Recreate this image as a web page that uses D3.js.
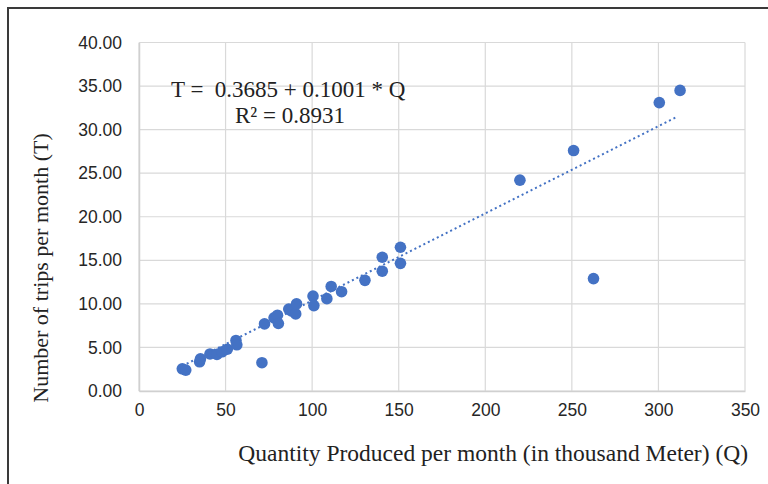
<!DOCTYPE html>
<html lang="en">
    <head>
        <meta charset="utf-8">
        <title>Trips vs Quantity</title>
        <script type="text/javascript" src="https://cdn.jsdelivr.net/npm/d3@7"></script>
        <style>
            body { margin: 0; background: #fff; }
        </style>
    </head>
    <body>
        <script type="text/javascript">

            //Width and height
            var w = 768;
            var h = 484;

            // quantity produced per month (thousand meter)
            var quantity = [25, 27, 35, 35.5, 41, 45, 48, 51, 56, 56.5, 71, 72.5,
                            78, 80, 80.5, 86.5, 88, 90.5, 91, 100.5, 101, 108.5,
                            111, 117, 130.5, 140.5, 140.5, 151, 151,
                            220, 251, 262.5, 300.5, 312.5];
            // trips per month
            var trips = [2.55, 2.4, 3.35, 3.7, 4.25, 4.2, 4.5, 4.8, 5.8, 5.3, 3.25, 7.7,
                         8.4, 8.7, 7.75, 9.4, 9.2, 8.85, 10.0, 10.9, 9.8, 10.6,
                         12.0, 11.4, 12.7, 15.35, 13.75, 16.5, 14.65,
                         24.2, 27.6, 12.9, 33.1, 34.5];

            var xTicks = [0, 50, 100, 150, 200, 250, 300, 350];
            var yTicks = [0, 5, 10, 15, 20, 25, 30, 35, 40];

            // trendline from the picture
            var intercept = 0.3685;
            var slope = 0.1001;

            var dataset = quantity.map(function (q, i) {
                return [q, trips[i]];
            });

            var serif = "'Liberation Serif', 'Times New Roman', serif";
            var sans = "'Liberation Sans', Arial, sans-serif";

            var xScale = d3.scaleLinear()
                    .domain([0, 350])
                    .range([139, 745]);

            var yScale = d3.scaleLinear()
                    .domain([0, 40])
                    .range([391, 42.5]);

            var svg = d3.select("body")
                    .append("svg")
                    .attr("width", w)
                    .attr("height", h);

            //Outer frame (runs off the right and bottom)
            svg.append("rect")
                    .attr("x", 8)
                    .attr("y", 8)
                    .attr("width", w + 20)
                    .attr("height", h + 20)
                    .attr("fill", "#fff")
                    .attr("stroke", "#3a3a3a")
                    .attr("stroke-width", 2);

            //Gridlines
            svg.selectAll("line.gx")
                    .data(xTicks)
                    .enter()
                    .append("line")
                    .attr("class", "gx")
                    .attr("x1", function (d) { return xScale(d); })
                    .attr("x2", function (d) { return xScale(d); })
                    .attr("y1", yScale(0))
                    .attr("y2", yScale(40))
                    .attr("stroke", "#d9d9d9")
                    .attr("stroke-width", 1.2);

            svg.selectAll("line.gy")
                    .data(yTicks)
                    .enter()
                    .append("line")
                    .attr("class", "gy")
                    .attr("x1", xScale(0))
                    .attr("x2", xScale(350))
                    .attr("y1", function (d) { return yScale(d); })
                    .attr("y2", function (d) { return yScale(d); })
                    .attr("stroke", "#d9d9d9")
                    .attr("stroke-width", 1.2);

            //Axes
            var xAxis = d3.axisBottom(xScale)
                    .tickValues(xTicks)
                    .tickSize(0)
                    .tickPadding(13);

            var yAxis = d3.axisLeft(yScale)
                    .tickValues(yTicks)
                    .tickSize(0)
                    .tickPadding(17)
                    .tickFormat(d3.format(".2f"));

            var gx = svg.append("g")
                    .attr("transform", "translate(0," + yScale(0) + ")")
                    .call(xAxis);
            var gy = svg.append("g")
                    .attr("transform", "translate(" + xScale(0) + ",0)")
                    .call(yAxis);

            [gx, gy].forEach(function (g) {
                g.select(".domain").attr("stroke", "#d0d0d0").attr("stroke-width", 1.5);
                g.selectAll("text")
                        .attr("font-family", sans)
                        .attr("font-size", "17.5px")
                        .attr("fill", "#262626");
            });

            //Trendline
            var xMin = d3.min(quantity);
            var xMax = 310;
            svg.append("line")
                    .attr("x1", xScale(xMin))
                    .attr("y1", yScale(intercept + slope * xMin))
                    .attr("x2", xScale(xMax))
                    .attr("y2", yScale(intercept + slope * xMax))
                    .attr("stroke", "#4472c4")
                    .attr("stroke-width", 2)
                    .attr("stroke-dasharray", "2,3");

            //Points
            svg.selectAll("circle")
                    .data(dataset)
                    .enter()
                    .append("circle")
                    .attr("cx", function (d) { return xScale(d[0]); })
                    .attr("cy", function (d) { return yScale(d[1]); })
                    .attr("r", 5.8)
                    .attr("fill", "#4472c4");

            //Equation
            svg.append("text")
                    .attr("x", 171)
                    .attr("y", 97)
                    .attr("font-family", serif)
                    .attr("font-size", "23px")
                    .attr("fill", "#222")
                    .attr("xml:space", "preserve")
                    .text("T =  0.3685 + 0.1001 * Q");

            svg.append("text")
                    .attr("x", 235)
                    .attr("y", 123)
                    .attr("font-family", serif)
                    .attr("font-size", "23px")
                    .attr("fill", "#222")
                    .text("R² = 0.8931");

            //Axis titles
            svg.append("text")
                    .attr("x", 748)
                    .attr("y", 461)
                    .attr("text-anchor", "end")
                    .attr("font-family", serif)
                    .attr("font-size", "23.5px")
                    .attr("fill", "#222")
                    .text("Quantity Produced per month (in thousand Meter) (Q)");

            svg.append("text")
                    .attr("transform", "translate(48,268) rotate(-90)")
                    .attr("text-anchor", "middle")
                    .attr("font-family", serif)
                    .attr("font-size", "22px")
                    .attr("fill", "#222")
                    .text("Number of trips per month (T)");

        </script>
    </body>
</html>
